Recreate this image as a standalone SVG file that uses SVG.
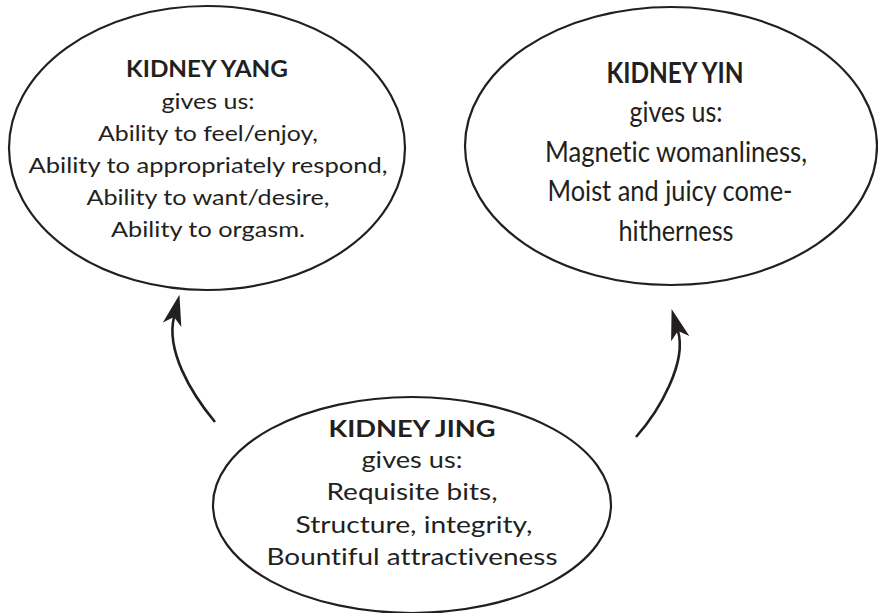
<svg xmlns="http://www.w3.org/2000/svg" width="878" height="613" viewBox="0 0 878 613">
<style>
.node ellipse{fill:#fff;stroke:#231f20;stroke-width:2.2}
text{font-family:Lato,"Open Sans","Liberation Sans",sans-serif;fill:#231f20;text-anchor:middle;font-variant-ligatures:none}
.t{font-size:22px}
.tj{font-size:23px}
.b{font-size:22px;font-weight:bold}
.c{font-size:28px}
.cb{font-size:28px;font-weight:bold}
.conn path{fill:none;stroke:#231f20;stroke-width:2.6;marker-end:url(#ah)}
</style>
<defs>
<marker id="ah" markerUnits="userSpaceOnUse" markerWidth="32" markerHeight="22" viewBox="0 0 32 22" refX="8" refY="11" orient="auto">
<path d="M0,1.5 L31,11 L0,20.5 L8,11 Z" fill="#231f20"/>
</marker>
</defs>
<rect width="878" height="613" fill="#fff"/>
<g class="conn" id="connectors">
<path d="M215,422 C190,392 166,350 174,317"/>
<path d="M636,437 C660,410 687,362 678,331"/>
</g>
<g class="node" id="yang">
<ellipse cx="207" cy="148" rx="198" ry="142"/>
<text class="b" x="207" y="77" textLength="162" lengthAdjust="spacingAndGlyphs">KIDNEY YANG</text>
<text class="t" x="208" y="109" textLength="93" lengthAdjust="spacingAndGlyphs">gives us:</text>
<text class="t" x="208" y="141" textLength="220" lengthAdjust="spacingAndGlyphs">Ability to feel/enjoy,</text>
<text class="t" x="208" y="173" textLength="359" lengthAdjust="spacingAndGlyphs">Ability to appropriately respond,</text>
<text class="t" x="208" y="205" textLength="243" lengthAdjust="spacingAndGlyphs">Ability to want/desire,</text>
<text class="t" x="208" y="237" textLength="194" lengthAdjust="spacingAndGlyphs">Ability to orgasm.</text>
</g>
<g class="node" id="yin">
<ellipse cx="671" cy="146" rx="206" ry="139"/>
<text class="cb" x="675" y="83" textLength="137" lengthAdjust="spacingAndGlyphs">KIDNEY YIN</text>
<text class="c" x="676" y="122" textLength="93" lengthAdjust="spacingAndGlyphs">gives us:</text>
<text class="c" x="676" y="162" textLength="262" lengthAdjust="spacingAndGlyphs">Magnetic womanliness,</text>
<text class="c" x="670" y="201" textLength="245" lengthAdjust="spacingAndGlyphs">Moist and juicy come-</text>
<text class="c" x="676" y="241" textLength="115" lengthAdjust="spacingAndGlyphs">hitherness</text>
</g>
<g class="node" id="jing">
<ellipse cx="412" cy="505" rx="199" ry="108"/>
<text class="b" x="412" y="437" textLength="167" lengthAdjust="spacingAndGlyphs">KIDNEY JING</text>
<text class="tj" x="412" y="468" textLength="101" lengthAdjust="spacingAndGlyphs">gives us:</text>
<text class="tj" x="412" y="500" textLength="171" lengthAdjust="spacingAndGlyphs">Requisite bits,</text>
<text class="tj" x="414" y="533" textLength="237" lengthAdjust="spacingAndGlyphs">Structure, integrity,</text>
<text class="tj" x="412" y="565" textLength="291" lengthAdjust="spacingAndGlyphs">Bountiful attractiveness</text>
</g>
</svg>
